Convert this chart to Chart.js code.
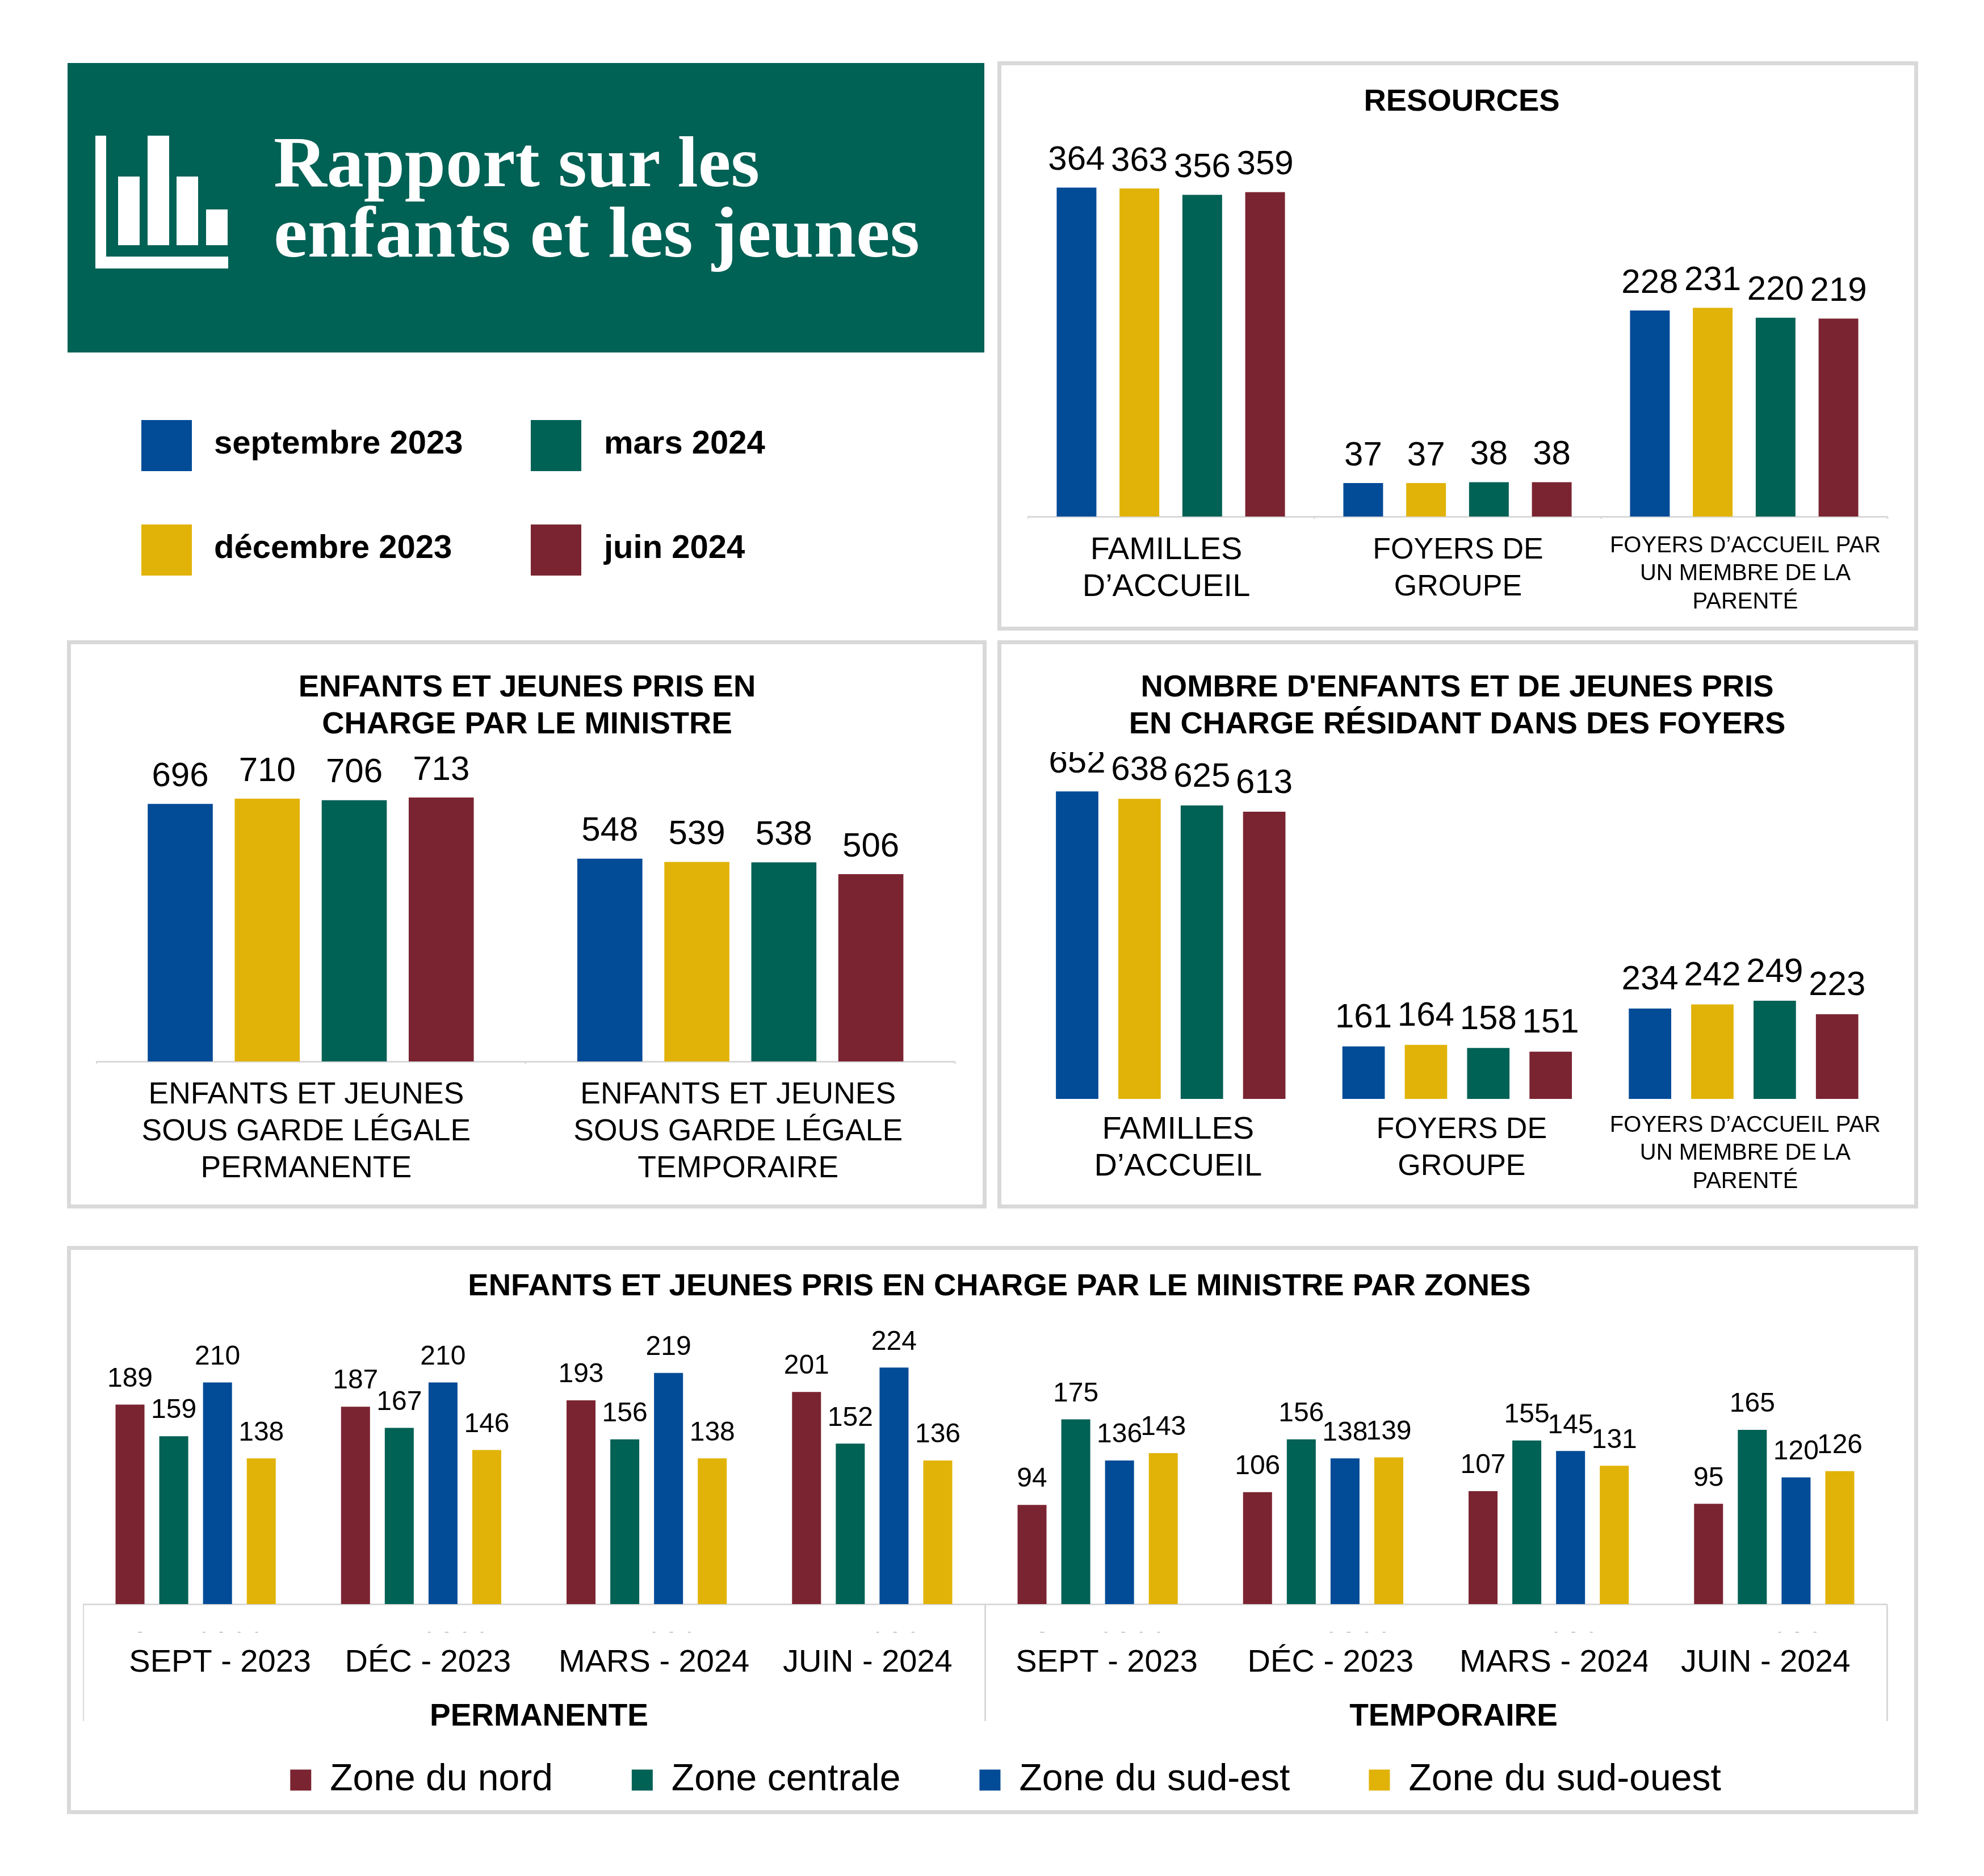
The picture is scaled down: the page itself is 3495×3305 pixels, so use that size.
<!DOCTYPE html>
<html lang="fr">
<head>
<meta charset="utf-8">
<title>Rapport sur les enfants et les jeunes</title>
<script src="https://cdn.jsdelivr.net/npm/chart.js@4/dist/chart.umd.min.js"></script>
<style>
html,body{margin:0;padding:0;background:#fff;}
body{width:3495px;height:3305px;position:relative;overflow:hidden;font-family:"Liberation Sans",Arial,sans-serif;color:#000;}
.abs{position:absolute;}
.panel{position:absolute;box-sizing:border-box;border:7px solid #d9d9d9;background:#fff;}
canvas{position:absolute;display:block;}
#head{position:absolute;left:119px;top:111px;width:1615px;height:510px;background:#006155;}
.hl{position:absolute;left:484px;font-family:"Liberation Serif",serif;font-weight:700;font-size:127px;line-height:127px;color:#fff;white-space:nowrap;transform-origin:0 0;}
.ic{position:absolute;background:#fff;}
.sw{position:absolute;width:89px;height:90px;}
.lt{position:absolute;font-weight:700;font-size:58px;line-height:66px;white-space:nowrap;}
</style>
</head>
<body>
<script>
// ---- Values ----
const seriesDates = ["septembre 2023", "décembre 2023", "mars 2024", "juin 2024"];

const resourceCats = [["FAMILLES","D’ACCUEIL"],["FOYERS DE","GROUPE"],["FOYERS D’ACCUEIL PAR","UN MEMBRE DE LA","PARENTÉ"]];
const resourceSep = [364, 37, 228];
const resourceDec = [363, 37, 231];
const resourceMar = [356, 38, 220];
const resourceJun = [359, 38, 219];

const legalCats = [["ENFANTS ET JEUNES","SOUS GARDE LÉGALE","PERMANENTE"],["ENFANTS ET JEUNES","SOUS GARDE LÉGALE","TEMPORAIRE"]];
const legalSep = [696, 548];
const legalDec = [710, 539];
const legalMar = [706, 538];
const legalJun = [713, 506];

const homeCats = [["FAMILLES","D’ACCUEIL"],["FOYERS DE","GROUPE"],["FOYERS D’ACCUEIL PAR","UN MEMBRE DE LA","PARENTÉ"]];
const homeSep = [652, 161, 234];
const homeDec = [638, 164, 242];
const homeMar = [625, 158, 249];
const homeJun = [613, 151, 223];

const zoneCats = ["SEPT - 2023","DÉC - 2023","MARS - 2024","JUIN - 2024","SEPT - 2023","DÉC - 2023","MARS - 2024","JUIN - 2024"];
const zoneHiddenCats = ["Sep 2023","Dec 2023","Mar 2024","Jun 2024","Sep 2023","Dec 2023","Mar 2024","Jun 2024"];
const zoneGroups = ["PERMANENTE","TEMPORAIRE"];
const zoneNames = ["Zone du nord","Zone centrale","Zone du sud-est","Zone du sud-ouest"];
const zoneNord = [189, 187, 193, 201, 94, 106, 107, 95];
const zoneCentrale = [159, 167, 156, 152, 175, 156, 155, 165];
const zoneSudEst = [210, 210, 219, 224, 136, 138, 145, 120];
const zoneSudOuest = [138, 146, 138, 136, 143, 139, 131, 126];

// ---- Style ----
const BLUE = "#024b97", GOLD = "#e1b308", GREEN = "#006155", MAROON = "#7b2431", GREY = "#d9d9d9";
const dateColors = [BLUE, GOLD, GREEN, MAROON];
const FONT = '"Liberation Sans", Arial, sans-serif';

function el(cls, css, text, parent) {
  const d = document.createElement("div");
  if (cls) d.className = cls;
  Object.assign(d.style, css || {});
  if (text) d.textContent = text;
  (parent || document.body).appendChild(d);
  return d;
}
function px(n){ return n + "px"; }
function panel(l, t, r, b){ el("panel", {left:px(l), top:px(t), width:px(r-l), height:px(b-t)}); }

// ---- Header ----
const head = el("", {}, "", document.body); head.id = "head";
[[48.5,128,19.5,234],[48.5,341,234,21],[89,200,38,121],[141,128,38,193],[192,200,38,121],[244,258,38,63]].forEach(r => {
  el("ic", {left:px(r[0]), top:px(r[1]), width:px(r[2]), height:px(r[3])}, "", head);
});
const headLines = [["Rapport sur les", 111, 856], ["enfants et les jeunes", 235, 1138]];
headLines.forEach(h => {
  const d = el("hl", {left:"363px", top:px(h[1])}, h[0], head);
  d.style.transform = "scaleX(" + (h[2] / d.getBoundingClientRect().width) + ")";
});

// ---- Date legend ----
[[249,740,377,746],[249,924,377,930],[935,740,1064,746],[935,924,1064,930]].forEach((p, i) => {
  el("sw", {left:px(p[0]), top:px(p[1]), background:dateColors[i]});
  el("lt", {left:px(p[2]), top:px(p[3])}, seriesDates[i]);
});

panel(1757,108,3379,1111);
panel(118,1128,1738,2129);
panel(1757,1128,3379,2129);
panel(118,2195,3379,3196);

// ---- Chart factory ----
function makeChart(c) {
  // The title centre is the canvas centre, so the invisible value axis absorbs the offset.
  const mid = (c.axisL + c.axisR) / 2;
  let left, right, yPos, yW;
  if (c.titleX >= mid) { left = c.axisL; right = 2*c.titleX - c.axisL; yPos = "right"; yW = right - c.axisR; }
  else { right = c.axisR; left = 2*c.titleX - c.axisR; yPos = "left"; yW = c.axisL - left; }
  const cv = document.createElement("canvas");
  cv.width = Math.round(right - left); cv.height = c.bottom - c.top;
  cv.style.left = px(left); cv.style.top = px(c.top);
  document.body.appendChild(cv);

  const titleH = c.title.length * 65;
  const padTop = c.titleY - 32.5 - c.top;
  const padBottom = c.areaTop - c.top - padTop - titleH;
  const yMax = c.yMin + (c.baseline - c.areaTop) / c.ppu;

  const decor = {
    id: "decor",
    beforeDraw(chart) {
      const x = chart.scales.x;
      x.getLabelItems().forEach((it, i) => { it.options.translation[0] += c.nudge[i] || 0; });
      if (c.legendShift && chart.legend) { chart.legend.left += c.legendShift; chart.legend.right += c.legendShift; }
    },
    afterDatasetsDraw(chart) {
      const g = chart.ctx;
      g.save();
      if (c.clipTop) { g.beginPath(); g.rect(0, c.clipTop - c.top, chart.width, chart.height); g.clip(); }
      g.font = c.valueFont + "px " + FONT;
      g.fillStyle = "#000"; g.textAlign = "center"; g.textBaseline = "middle";
      chart.data.datasets.forEach((ds, di) => {
        chart.getDatasetMeta(di).data.forEach((bar, i) => {
          g.fillText(String(ds.data[i]), bar.x, bar.y - c.valueGap);
        });
      });
      g.restore();
    },
    afterDraw(chart) { if (c.after) c.after(chart, left); }
  };

  return new Chart(cv, {
    type: "bar",
    data: {
      labels: c.labels,
      datasets: c.series.map((s, i) => ({
        label: c.names[i], data: s, backgroundColor: c.colors[i], borderWidth: 0,
        barPercentage: c.barPct, categoryPercentage: c.catPct
      }))
    },
    options: {
      responsive: false, animation: false, devicePixelRatio: 1,
      layout: { padding: 0, autoPadding: false },
      plugins: {
        title: { display: true, text: c.title, color: "#000", padding: {top: padTop, bottom: padBottom},
                 font: {family: FONT, size: 54.5, weight: "bold", lineHeight: 65/54.5} },
        legend: c.legend || { display: false },
        tooltip: { enabled: false }
      },
      scales: {
        x: {
          display: true,
          border: c.axisLine ? {display: true, color: GREY, width: 3} : {display: false},
          grid: {display: !!c.axisLine, drawOnChartArea: false, drawTicks: true,
                 tickLength: c.tickLen, tickWidth: 3, tickColor: c.tickColor || GREY, color: GREY},
          ticks: {autoSkip: false, minRotation: 0, maxRotation: 0, color: "#000", padding: c.tickPad,
                  font: c.tickFont || {family: FONT, size: 56, lineHeight: 65/56}},
          afterFit(s) { s.height = c.axisH; }
        },
        y: {
          display: true, position: yPos, min: c.yMin, max: yMax,
          border: {display: false}, grid: {display: false}, ticks: {display: false},
          afterFit(s) { s.width = yW; }
        }
      }
    },
    plugins: [decor]
  });
}

const tickFont3 = ctx => ctx.index === 2
  ? {family: FONT, size: 40, lineHeight: 49.5/40}
  : (ctx.index === 1
      ? {family: FONT, size: 52, lineHeight: 65/52}
      : {family: FONT, size: 56, lineHeight: 65/56});

// ---- Resources ----
makeChart({
  labels: resourceCats, series: [resourceSep, resourceDec, resourceMar, resourceJun],
  names: seriesDates, colors: dateColors,
  title: ["RESOURCES"], titleX: 2575, titleY: 180,
  top: 115, bottom: 1105, areaTop: 273, baseline: 910, axisH: 195,
  axisL: 1810, axisR: 3325, yMin: 0, ppu: 1.592,
  barPct: 0.632, catPct: 0.877, valueFont: 60, valueGap: 48,
  axisLine: true, tickLen: 4, tickPad: 23, tickFont: tickFont3, nudge: [-8, 1, 2]
});

// ---- Legal custody ----
makeChart({
  labels: legalCats, series: [legalSep, legalDec, legalMar, legalJun],
  names: seriesDates, colors: dateColors,
  title: ["ENFANTS ET JEUNES PRIS EN", "CHARGE PAR LE MINISTRE"], titleX: 928, titleY: 1211.5,
  top: 1135, bottom: 2122, areaTop: 1330, baseline: 1870, axisH: 252,
  axisL: 168.6, axisR: 1682, yMin: 0, ppu: 0.652,
  barPct: 0.748, catPct: 0.81, valueFont: 60, valueGap: 48,
  axisLine: true, tickLen: 4, tickPad: 23, nudge: [-8, -4],
  tickFont: {family: FONT, size: 53.5, lineHeight: 65/53.5}
});

// ---- Homes ----
makeChart({
  labels: homeCats, series: [homeSep, homeDec, homeMar, homeJun],
  names: seriesDates, colors: dateColors,
  title: ["NOMBRE D'ENFANTS ET DE JEUNES PRIS", "EN CHARGE RÉSIDANT DANS DES FOYERS"], titleX: 2567, titleY: 1211.5,
  top: 1135, bottom: 2122, areaTop: 1340, baseline: 1936, axisH: 186,
  axisL: 1810, axisR: 3332, yMin: 60, ppu: 0.915,
  barPct: 0.68, catPct: 0.871, valueFont: 60, valueGap: 50, clipTop: 1325,
  axisLine: false, tickLen: 0, tickPad: 22, tickFont: tickFont3, nudge: [13, 8, 3]
});

// ---- Zones ----
makeChart({
  labels: zoneCats, series: [zoneNord, zoneCentrale, zoneSudEst, zoneSudOuest],
  names: zoneNames, colors: [MAROON, GREEN, BLUE, GOLD],
  title: ["ENFANTS ET JEUNES PRIS EN CHARGE PAR LE MINISTRE PAR ZONES"], titleX: 1760.5, titleY: 2267,
  top: 2202, bottom: 3179, areaTop: 2345, baseline: 2826, axisH: 138,
  axisL: 146, axisR: 3324, yMin: 0, ppu: 1.86,
  barPct: 0.662, catPct: 0.776, valueFont: 48, valueGap: 45,
  axisLine: true, tickLen: 206, tickPad: -135, nudge: [43, 12, 13, -8, 16, 13, 11, -15],
  tickColor: ctx => (ctx.index === undefined || ctx.index % 4 === 0) ? GREY : "rgba(0,0,0,0)",
  legendShift: 11,
  legend: { display: true, position: "bottom",
    labels: { boxWidth: 37, boxHeight: 37, padding: 139, color: "#000", font: {family: FONT, size: 66} } },
  after(chart, left) {
    const g = chart.ctx, x = chart.scales.x, off = 2202;
    // group captions under the month labels
    g.save();
    g.font = "bold 55px " + FONT; g.fillStyle = "#000"; g.textAlign = "center"; g.textBaseline = "middle";
    g.fillText(zoneGroups[0], (x.getPixelForTick(1) + x.getPixelForTick(2)) / 2 + 9, 3025 - off);
    g.fillText(zoneGroups[1], (x.getPixelForTick(5) + x.getPixelForTick(6)) / 2 + 31, 3025 - off);
    // slivers of the original axis labels that peek out above the month labels
    g.beginPath(); g.rect(0, 2874 - off, chart.width, 2); g.clip();
    g.font = "56px " + FONT; g.textBaseline = "alphabetic";
    zoneHiddenCats.forEach((t, i) => g.fillText(t, x.getPixelForTick(i) + 3, 2914 - off));
    g.restore();
    // the last "MARS - 2024" is cut on its right edge
    g.clearRect(2902 - left, 2885 - off, 36, 80);
  }
});
</script>
</body>
</html>
